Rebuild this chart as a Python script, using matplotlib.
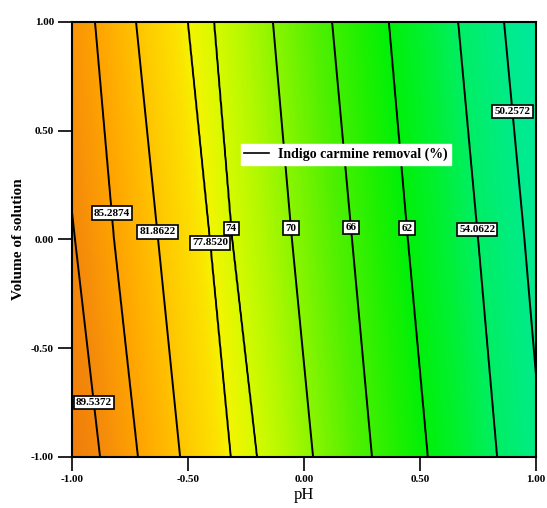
import numpy as np
import matplotlib
matplotlib.use("Agg")
import matplotlib.pyplot as plt
from matplotlib.colors import LinearSegmentedColormap
from matplotlib.lines import Line2D

plt.rcParams['font.family'] = ['Liberation Serif', 'DejaVu Serif']

# contour levels (Indigo carmine removal, %) and the pH where each line sits
# at volume = +1, 0 and -1
levels = [89.5372, 85.2874, 81.8622, 77.8520, 74.0, 70.0, 66.0, 62.0, 54.0622, 50.2572]
level_labels = ["89.5372", "85.2874", "81.8622", "77.8520", "74", "70", "66", "62", "54.0622", "50.2572"]
ph_at_top = [-1.09, -0.901, -0.724, -0.500, -0.388, -0.134, 0.121, 0.366, 0.664, 0.862]
ph_at_mid = [-0.987, -0.819, -0.629, -0.405, -0.310, -0.052, 0.207, 0.448, 0.750, 0.950]
ph_at_bot = [-0.879, -0.716, -0.534, -0.315, -0.203, 0.039, 0.293, 0.534, 0.832, 1.030]

# where the labels sit (pH, volume)
label_pos = [(-0.89, -0.747), (-0.823, 0.122), (-0.629, 0.035), (-0.405, -0.016),
             (-0.293, 0.053), (-0.052, 0.053), (0.198, 0.053), (0.448, 0.053),
             (0.750, 0.048), (0.888, 0.586)]

xticks = [-1.0, -0.5, 0.0, 0.5, 1.0]
yticks = [-1.0, -0.5, 0.0, 0.5, 1.0]

# colour stops by response value
cvals = [46, 50, 54, 58, 62, 64, 67, 70, 72, 74, 77.8, 79, 82, 85, 89, 94]
ccols = [(0, 230, 170), (0, 235, 140), (0, 238, 100), (0, 240, 50), (0, 240, 10),
         (30, 240, 0), (80, 240, 0), (140, 245, 0), (180, 248, 0), (215, 250, 0),
         (245, 245, 0), (252, 225, 0), (255, 195, 0), (255, 165, 0), (245, 140, 10),
         (238, 120, 10)]

# build the response field from the contour positions
ph = np.linspace(-1, 1, 401)
vol = np.linspace(-1, 1, 301)
lev = np.array(levels)
Z = np.zeros((len(vol), len(ph)))
for i, v in enumerate(vol):
    pos = []
    for k in range(len(levels)):
        pos.append(np.interp(v, [-1, 0, 1], [ph_at_bot[k], ph_at_mid[k], ph_at_top[k]]))
    pos = np.array(pos)
    row = np.interp(ph, pos, lev)
    s0 = (lev[1] - lev[0]) / (pos[1] - pos[0])
    s1 = (lev[-1] - lev[-2]) / (pos[-1] - pos[-2])
    row = np.where(ph < pos[0], lev[0] + s0 * (ph - pos[0]), row)
    row = np.where(ph > pos[-1], lev[-1] + s1 * (ph - pos[-1]), row)
    Z[i] = row

vmin, vmax = cvals[0], cvals[-1]
cmap = LinearSegmentedColormap.from_list(
    "de", [((c - vmin) / (vmax - vmin), tuple(x / 255 for x in col)) for c, col in zip(cvals, ccols)])

fig = plt.figure(figsize=(5.47, 5.08), dpi=100)
ax = fig.add_axes([0.1316, 0.1004, 0.8484, 0.8563])

ax.pcolormesh(ph, vol, Z, cmap=cmap, vmin=vmin, vmax=vmax, shading='gouraud')
cs = ax.contour(ph, vol, Z, levels=sorted(levels), colors='black', linewidths=1.4)
fmt = dict(zip(levels, level_labels))
texts = ax.clabel(cs, fmt=fmt, manual=label_pos, inline=False, fontsize=8)
for t in texts:
    t.set_rotation(0)
    t.set_fontweight('bold')
    t.set_bbox(dict(facecolor='white', edgecolor='black', linewidth=1.2, pad=1.5))

ax.set_xlim(-1, 1)
ax.set_ylim(-1, 1)
ax.set_xticks(xticks)
ax.set_yticks(yticks)
ax.set_xticklabels(["%.2f" % t for t in xticks], fontsize=8, fontweight='bold')
ax.set_yticklabels(["%.2f" % t for t in yticks], fontsize=8, fontweight='bold')
ax.tick_params(direction='out', length=10, width=1.2, pad=3)
for sp in ax.spines.values():
    sp.set_linewidth(1.5)

ax.set_xlabel("pH", fontsize=12, labelpad=2)
ax.set_ylabel("Volume of solution", fontsize=11, fontweight='bold', labelpad=4)

leg = ax.legend(handles=[Line2D([], [], color='black', linewidth=1.2)],
                labels=["Indigo carmine removal (%)"], loc='center',
                bbox_to_anchor=(0.59, 0.695), frameon=True, fancybox=False,
                framealpha=1, edgecolor='white', handlelength=1.8, handletextpad=0.6,
                prop={'size': 10, 'weight': 'bold'}, borderpad=0.25)

plt.savefig("out.png", dpi=100)
